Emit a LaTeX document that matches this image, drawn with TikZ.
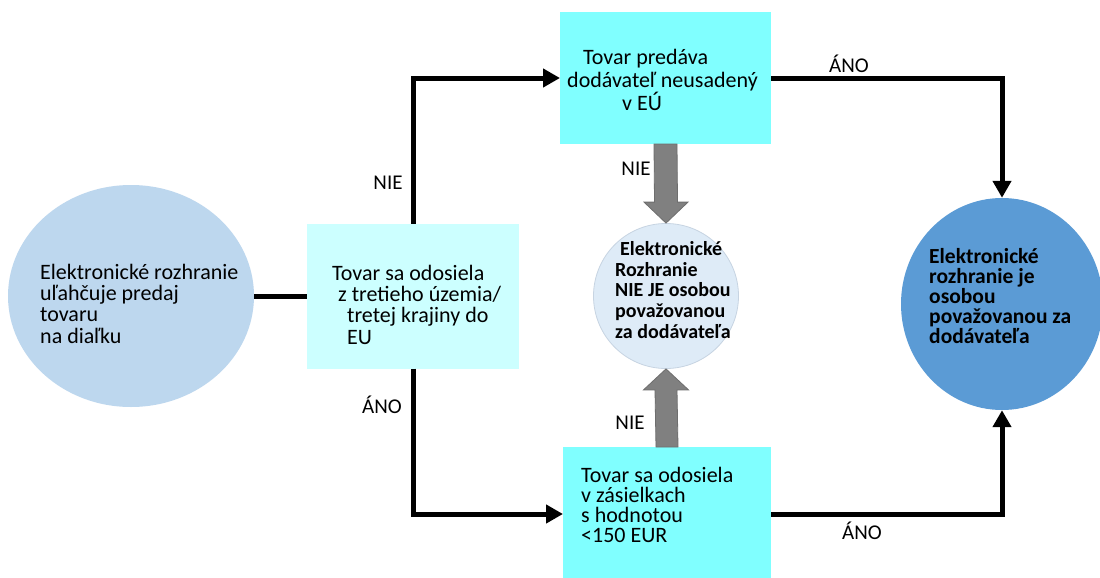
\documentclass[tikz,border=0pt]{standalone}
\usepackage{fontspec}
\setmainfont{Carlito}
\usetikzlibrary{arrows.meta,calc,shapes.geometric}
\definecolor{discL}{HTML}{BDD7EE}
\definecolor{discM}{HTML}{DEEBF7}
\definecolor{discMline}{HTML}{C7D4E2}
\definecolor{discR}{HTML}{5B9BD5}
\definecolor{boxA}{HTML}{CCFFFF}
\definecolor{boxBC}{HTML}{80FFFF}
\definecolor{blockgray}{HTML}{808080}
\definecolor{blockline}{HTML}{6E6E6E}
\begin{document}
\begin{tikzpicture}[x=1pt,y=-1pt,
  shapebox/.style={rectangle,inner sep=0pt,outer sep=0pt},
  txt/.style={anchor=north west,inner sep=0pt,align=left,
    font=\fontsize{22}{21.3}\selectfont},
  boldtxt/.style={txt,font=\fontsize{21.5}{20}\selectfont\bfseries},
  lbl/.style={inner sep=0pt,font=\fontsize{21}{21}\selectfont},
  conn/.style={line width=5pt,draw=black},
  arr/.style={-{Triangle[width=18pt,length=17pt]}},
  blockarrow/.style={fill=blockgray,draw=blockline,line width=0.8pt}]
\useasboundingbox (0,0) rectangle (1100,578);
\fill[white] (0,0) rectangle (1100,578);

% shapes
\node[ellipse,fill=discL,inner sep=0pt,minimum width=246pt,minimum height=222pt] (L) at (131,296) {};
\node[shapebox,fill=boxA,minimum width=212pt,minimum height=145pt] (A) at (413,296) {};
\node[shapebox,fill=boxBC,minimum width=211pt,minimum height=132pt] (B) at (665.5,78) {};
\node[shapebox,fill=boxBC,minimum width=208pt,minimum height=134pt] (C) at (667,514) {};
\node[circle,fill=discM,draw=discMline,line width=0.8pt,inner sep=0pt,minimum size=145pt] (M) at (666,296) {};
\node[ellipse,fill=discR,inner sep=0pt,minimum width=202pt,minimum height=212pt] (R) at (1002,304) {};

% texts (top of first line 16pt above its baseline)
\newcommand{\firstline}{\rule{0pt}{16pt}}
\node[txt] (tL) at (40,263) {\firstline Elektronické rozhranie\\uľahčuje predaj\\tovaru\\na diaľku};
\node[txt] (tA) at (332,264) {\firstline Tovar sa odosiela\\\hspace*{6pt}z tretieho územia/\\\hspace*{15pt}tretej krajiny do\\\hspace*{15pt}EU};
\node[txt,font=\fontsize{22}{23.3}\selectfont] (tB) at (567,48) {\firstline\hspace*{16pt}Tovar predáva\\dodávateľ neusadený\\\hspace*{55pt}v EÚ};
\node[txt,font=\fontsize{22}{20}\selectfont] (tC) at (581,466) {\firstline Tovar sa odosiela\\v zásielkach\\s hodnotou\\<150 EUR};
\node[boldtxt,font=\fontsize{20}{20.8}\selectfont\bfseries] (tM) at (615,239) {\firstline\hspace*{5pt}Elektronické\\Rozhranie\\NIE JE osobou\\považovanou\\za dodávateľa};
\node[boldtxt] (tR) at (929,247) {\firstline Elektronické\\rozhranie je\\osobou\\považovanou za\\dodávateľa};

% connectors
\draw[conn] (L.east) -- (A.west);
\draw[conn,arr] (A.north) |- (B.west);
\draw[conn,arr] (A.south) |- (C.west);
\draw[conn,arr] (B.east) -| (R.north);
\draw[conn,arr] (C.east) -| (R.south);

% block arrows towards the middle disc
\draw[blockarrow] ($(B.south)+(-11.5,0)$) -- ($(M.north)+(-11.5,-21)$) -- ($(M.north)+(-22,-21)$)
  -- (M.north) -- ($(M.north)+(22,-21)$) -- ($(M.north)+(11.5,-21)$) -- ($(B.south)+(11.5,0)$) -- cycle;
\draw[blockarrow] ($(C.north)+(-11,0)$) -- ($(M.south)+(-11,21)$) -- ($(M.south)+(-22.5,21)$)
  -- (M.south) -- ($(M.south)+(22.5,21)$) -- ($(M.south)+(11,21)$) -- ($(C.north)+(11,0)$) -- cycle;

% branch labels
\node[lbl] (n1) at (388,183) {NIE};
\node[lbl] (a1) at (382,405) {ÁNO};
\node[lbl] (n2) at (636,169) {NIE};
\node[lbl] (n3) at (630,423) {NIE};
\node[lbl] (a2) at (849,64) {ÁNO};
\node[lbl] (a3) at (862,531) {ÁNO};
\end{tikzpicture}
\end{document}
